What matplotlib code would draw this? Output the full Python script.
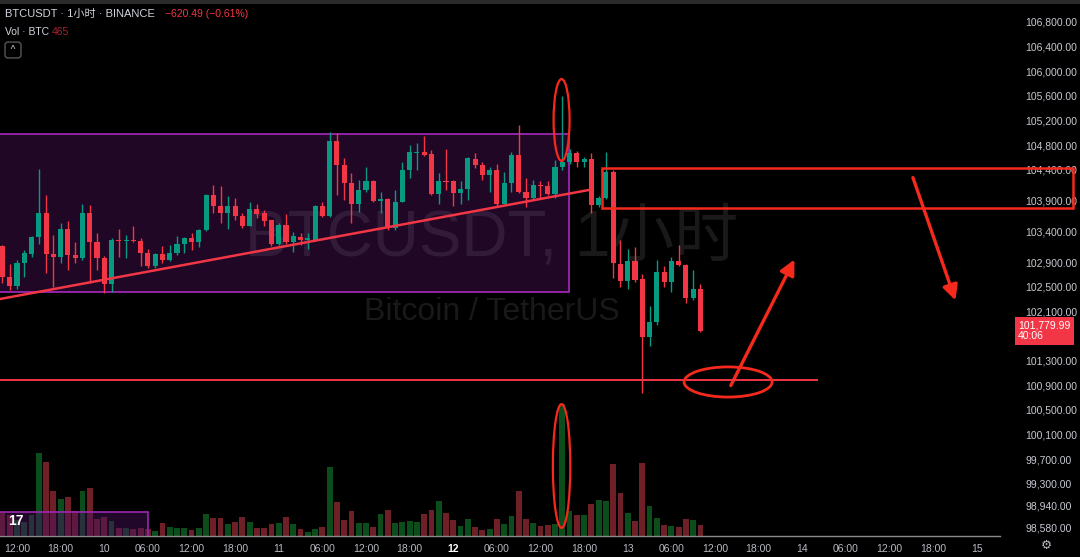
import numpy as np
import matplotlib
matplotlib.use("Agg")
import matplotlib.pyplot as plt
from matplotlib.patches import Rectangle, Ellipse

plt.rcParams['font.family'] = ['Liberation Sans', 'Noto Sans CJK SC', 'DejaVu Sans']

# hourly candles, first one is 9th 10:00
opens = [103160, 102650, 102510, 102890, 103030, 103300, 103690, 103030, 102980, 103430,
         103020, 102960, 103690, 103220, 102960, 102540, 103260, 103240, 103260, 103250,
         103040, 102840, 103030, 102930, 103050, 103200, 103290, 103220, 103420, 103990,
         103810, 103690, 103810, 103650, 103490, 103760, 103690, 103580, 103190, 103500,
         103230, 103310, 103260, 103260, 103810, 103650, 104860, 104480, 104190, 103840,
         104070, 104210, 103900, 103920, 103450, 103880, 104400, 104670, 104690, 104650,
         104010, 104220, 104210, 104030, 104090, 104570, 104480, 104320, 104400, 103850,
         104180, 104640, 104040, 103940, 104150, 104130, 104010, 104440, 104520, 104670,
         104520, 104570, 103830, 103940, 104370, 102870, 102600, 102920, 102620, 101690,
         101920, 102740, 102570, 102920, 102850, 102310, 102460]
highs = [103180, 102870, 102930, 103100, 103320, 104410, 103990, 103340, 103530, 103560,
         103220, 103850, 103830, 103370, 103000, 103290, 103430, 103340, 103480, 103290,
         103120, 103050, 103160, 103180, 103320, 103310, 103370, 103430, 104010, 104150,
         104140, 103970, 103940, 103690, 103880, 103850, 103750, 103590, 103530, 103680,
         103390, 103370, 103370, 103830, 103870, 105020, 105000, 104590, 104340, 104240,
         104450, 104230, 104040, 103940, 104070, 104520, 104800, 104830, 104940, 104720,
         104340, 104730, 104230, 104210, 104610, 104670, 104530, 104450, 104500, 104370,
         104680, 105130, 104260, 104230, 104210, 104210, 104550, 105600, 104730, 104710,
         104600, 104670, 103970, 104680, 104400, 103260, 103120, 103150, 102710, 102180,
         102930, 102830, 102990, 103180, 102870, 102770, 102550]
lows = [102560, 102440, 102470, 102660, 102990, 103190, 102720, 102500, 102880, 102770,
        102880, 102930, 102560, 102770, 102390, 102420, 102990, 102960, 103230, 102830,
        102800, 102800, 102880, 102910, 103010, 103050, 103100, 103140, 103400, 103700,
        103540, 103430, 103580, 103450, 103480, 103610, 103490, 103160, 103180, 103200,
        103070, 103180, 103120, 103250, 103630, 103640, 103990, 103910, 103540, 103720,
        104040, 103880, 103690, 103420, 103420, 103870, 104260, 104400, 104620, 103990,
        103850, 104070, 103810, 103850, 103910, 104420, 104230, 104040, 103790, 103840,
        104040, 104020, 103800, 103910, 103940, 103990, 103940, 104400, 104500, 104450,
        104450, 103690, 103800, 103920, 102640, 102500, 102470, 102580, 100770, 101530,
        101880, 102500, 102420, 102840, 102230, 102280, 101770]
closes = [102660, 102510, 102890, 103040, 103300, 103690, 103030, 102980, 103430, 103020,
          102960, 103690, 103220, 102960, 102540, 103260, 103240, 103260, 103240, 103040,
          102840, 103030, 102930, 103050, 103200, 103290, 103220, 103420, 103990, 103810,
          103690, 103810, 103650, 103490, 103760, 103680, 103570, 103190, 103500, 103230,
          103320, 103260, 103290, 103810, 103650, 104860, 104480, 104190, 103840, 104070,
          104210, 103900, 103920, 103450, 103880, 104400, 104690, 104690, 104640, 104010,
          104210, 104200, 104030, 104090, 104590, 104480, 104320, 104400, 103850, 104180,
          104640, 104040, 103940, 104150, 104130, 104010, 104440, 104520, 104670, 104520,
          104570, 103830, 103940, 104370, 102880, 102600, 102920, 102610, 101690, 101920,
          102740, 102570, 102920, 102850, 102310, 102460, 101779.99]
volumes = [995, 880, 670, 590, 880, 3490, 3110, 1890, 1550, 1640,
           1050, 1890, 2020, 710, 800, 630, 340, 340, 295, 340,
           295, 210, 545, 380, 340, 340, 250, 340, 925, 755,
           755, 505, 590, 800, 590, 340, 340, 505, 545, 800,
           505, 295, 170, 295, 380, 2900, 1430, 670, 1050, 545,
           545, 380, 925, 1090, 545, 590, 630, 590, 925, 1090,
           1470, 965, 670, 420, 715, 380, 250, 295, 715, 505,
           840, 1890, 715, 545, 420, 460, 505, 5545, 1050, 880,
           880, 1345, 1510, 1470, 3025, 1805, 965, 630, 3065, 1260,
           755, 460, 420, 380, 715, 670, 465]

price_ticks = [106800, 106400, 106000, 105600, 105200, 104800, 104400, 103900, 103400,
               102900, 102500, 102100, 101300, 100900, 100500, 100100, 99700, 99300,
               98940, 98580]
time_labels = ['12:00', '18:00', '10', '06:00', '12:00', '18:00', '11', '06:00', '12:00',
               '18:00', '12', '06:00', '12:00', '18:00', '13', '06:00', '12:00', '18:00',
               '14', '06:00', '12:00', '18:00', '15']

GREEN = '#089981'
RED = '#f23645'
VGREEN = '#0b4d1b'
VRED = '#6f1f26'
MARK = '#f5291c'

opens = np.array(opens); highs = np.array(highs)
lows = np.array(lows); closes = np.array(closes)
idx = np.arange(len(opens))
up = closes >= opens

W, H = 1080, 557
fig = plt.figure(figsize=(10.8, 5.57), dpi=100, facecolor='black')
pos = [0, (H - 536) / H, 1000 / W, 531 / H]

# volume panel sits behind the price axes
axv = fig.add_axes(pos, facecolor='black')
axv.bar(idx, volumes, width=0.8, color=np.where(up, VGREEN, VRED))
axv.set_ylim(0, 22300)
axv.set_xlim(-0.34, 137.2)
axv.axis('off')

ax = fig.add_axes(pos, facecolor='none')
ax.set_xlim(-0.34, 137.2)
ax.set_ylim(98450, 107076)

# watermark
ax.text(67.3, 103290, 'BTCUSDT, 1小时', fontsize=46, color='white', alpha=0.1,
        ha='center', va='center', zorder=0)
ax.text(67.3, 102090, 'Bitcoin / TetherUS', fontsize=23, color='white', alpha=0.1,
        ha='center', va='center', zorder=0)

# range box + small box near volume
ax.add_patch(Rectangle((-2, 102410), 79.9, 2570, facecolor='#8e24aa', alpha=0.22,
                       edgecolor='none', zorder=1))
ax.add_patch(Rectangle((-2, 102410), 79.9, 2570, facecolor='none',
                       edgecolor='#9c27b0', lw=1.3, zorder=1))
ax.add_patch(Rectangle((-2, 97800), 22.0, 1040, facecolor='#4a1260', alpha=0.45,
                       edgecolor='none', zorder=5))
ax.add_patch(Rectangle((-2, 97800), 22.0, 1040, facecolor='none',
                       edgecolor='#9c27b0', lw=1.2, zorder=5))

# candles
col = np.where(up, GREEN, RED)
ax.vlines(idx, lows, highs, color=col, lw=1, zorder=3)
ax.bar(idx, np.maximum(np.abs(closes - opens), 20), bottom=np.minimum(opens, closes),
       width=0.7, color=col, zorder=4)

# drawings
ax.plot([-0.34, 80.65], [102300, 104071], color=RED, lw=1.8, zorder=5)
ax.plot([-0.34, 112], [100980, 100980], color=RED, lw=1.4, zorder=5)
ax.add_patch(Rectangle((82.4, 103778), 64.9, 650, facecolor='none', edgecolor=MARK,
                       lw=1.8, clip_on=False, zorder=6))
ax.add_patch(Ellipse((76.9, 105208), 2.2, 1330, facecolor='none', edgecolor=MARK, lw=1.6, zorder=6))
ax.add_patch(Ellipse((76.9, 99587), 2.4, 2010, facecolor='none', edgecolor=MARK, lw=1.6, zorder=6))
ax.add_patch(Ellipse((99.8, 100952), 12.1, 490, facecolor='none', edgecolor=MARK, lw=2, zorder=6))
ax.annotate('', xy=(109.1, 102982), xytext=(100.0, 100854),
            arrowprops=dict(arrowstyle='-|>,head_length=0.9,head_width=0.45', color=MARK, lw=2.4))
ax.annotate('', xy=(131.2, 102235), xytext=(125.1, 104315),
            arrowprops=dict(arrowstyle='-|>,head_length=0.9,head_width=0.45', color=MARK, lw=2.4))

# axes styling
ax.yaxis.tick_right()
ax.set_yticks(price_ticks)
ax.set_yticklabels([f'{p:,.2f}' for p in price_ticks])
ax.tick_params(axis='y', length=0, pad=18, labelsize=7.5, labelcolor='#c8cad2')
ax.set_xticks(np.arange(len(time_labels)) * 6 + 2)
ax.set_xticklabels(time_labels)
ax.tick_params(axis='x', length=0, pad=6, labelsize=7.5, labelcolor='#b8bac2')
for lab in ax.get_xticklabels():
    if lab.get_text() == '12':
        lab.set_fontweight('bold')
        lab.set_color('white')
for s in ['top', 'left', 'right']:
    ax.spines[s].set_visible(False)
ax.spines['bottom'].set_color('#8a8a8a')
ax.spines['bottom'].set_linewidth(1)

# last price label
ax.text(1.018, closes[-1], f'{closes[-1]:,.2f}\n40:06', transform=ax.get_yaxis_transform(),
        fontsize=7.5, color='white', ha='left', va='center', linespacing=1.1, clip_on=False,
        bbox=dict(boxstyle='square,pad=0.3', facecolor=RED, edgecolor='none'), zorder=7)

# header
fig.add_artist(Rectangle((0, 1 - 4 / H), 1, 4 / H, transform=fig.transFigure,
                         facecolor='#2b2b2b', edgecolor='none'))
fig.text(5 / W, 1 - 14 / H, 'BTCUSDT · 1小时 · BINANCE', fontsize=8, color='#d1d4dc',
         va='center')
fig.text(165 / W, 1 - 14 / H, '−620.49 (−0.61%)', fontsize=7.5, color=RED, va='center')
fig.text(5 / W, 1 - 32 / H, 'Vol · BTC', fontsize=7.5, color='#d1d4dc', va='center')
fig.text(52 / W, 1 - 32 / H, '465', fontsize=7.5, color='#a8232e', va='center')
fig.text(13 / W, 1 - 50 / H, ' ^ ', fontsize=7, color='#d1d4dc', ha='center', va='center',
         bbox=dict(boxstyle='round,pad=0.3', facecolor='black', edgecolor='#555555'))
fig.text(8 / W, 1 - 521 / H, '17', fontsize=10, fontweight='bold', color='white',
         va='center', zorder=8)
fig.text(1046 / W, 1 - 546 / H, '⚙', fontsize=9, color='#b8bac2', ha='center', va='center')

fig.savefig('out.png', dpi=100, facecolor='black')
